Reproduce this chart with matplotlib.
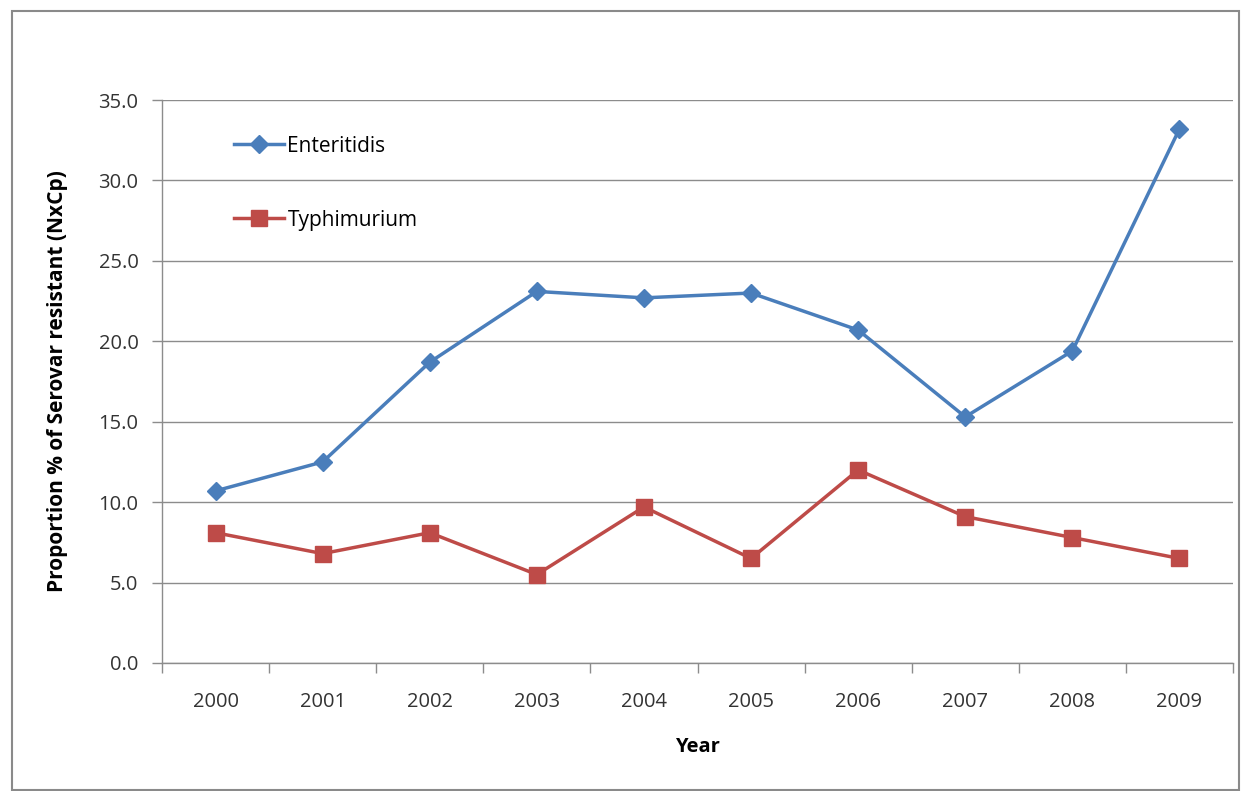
import numpy as np
import matplotlib
matplotlib.use("Agg")
import matplotlib.pyplot as plt
from matplotlib.patches import Rectangle

# Data
years = ['2000', '2001', '2002', '2003', '2004', '2005', '2006', '2007', '2008', '2009']
enteritidis = [10.7, 12.5, 18.7, 23.1, 22.7, 23.0, 20.7, 15.3, 19.4, 33.2]
typhimurium = [8.1, 6.8, 8.1, 5.5, 9.7, 6.5, 12.0, 9.1, 7.8, 6.5]
y_ticks = [0, 5, 10, 15, 20, 25, 30, 35]

plt.rcParams['font.family'] = ['Open Sans', 'DejaVu Sans']

blue = '#4A7EBB'
red = '#BE4B48'
grid_col = '#8C8C8C'
fs = 14.5

fig = plt.figure(figsize=(12.41, 7.91), dpi=100)
ax = fig.add_axes([162 / 1241, 1 - 663 / 791, (1233 - 162) / 1241, (663 - 100) / 791])

# Outer chart border
fig.patches.append(Rectangle((12 / 1241, 1 / 791), 1227 / 1241, 779 / 791,
                             transform=fig.transFigure, fill=False,
                             edgecolor='#8A8A8A', linewidth=1.5))

x = np.arange(len(years))
ax.plot(x, enteritidis, color=blue, linewidth=2.5, marker='D', markersize=9,
        label='Enteritidis')
ax.plot(x, typhimurium, color=red, linewidth=2.5, marker='s', markersize=12,
        label='Typhimurium')

ax.set_xlim(-0.5, len(years) - 0.5)
ax.set_ylim(0, 35)
ax.set_yticks(y_ticks)
ax.set_yticklabels([f'{v:.1f}' for v in y_ticks], fontsize=fs, color='#333333')

# x ticks sit between categories, labels at category centres
ax.set_xticks(np.arange(-0.5, len(years), 1.0))
ax.set_xticklabels([])
ax.set_xticks(x, minor=True)
ax.set_xticklabels(years, minor=True, fontsize=fs, color='#333333')
ax.tick_params(axis='x', which='major', length=7, width=1, color=grid_col, direction='out')
ax.tick_params(axis='x', which='minor', length=0, pad=21)
ax.tick_params(axis='y', length=7, width=1, color=grid_col, direction='out', pad=10)

ax.grid(axis='y', color=grid_col, linewidth=1)
ax.set_axisbelow(True)
for side in ['top', 'right']:
    ax.spines[side].set_visible(False)
for side in ['left', 'bottom']:
    ax.spines[side].set_color(grid_col)
    ax.spines[side].set_linewidth(1)

ax.set_xlabel('Year', fontsize=fs, fontweight='bold', labelpad=18)
ax.set_ylabel('Proportion % of Serovar resistant (NxCp)', fontsize=15,
              fontweight='bold', labelpad=22)

ax.legend(loc='upper left', bbox_to_anchor=(0.05, 0.97), frameon=False,
          fontsize=15, handlelength=2.4, handletextpad=0.15, labelspacing=2.55)

fig.savefig('out.png', dpi=100)
